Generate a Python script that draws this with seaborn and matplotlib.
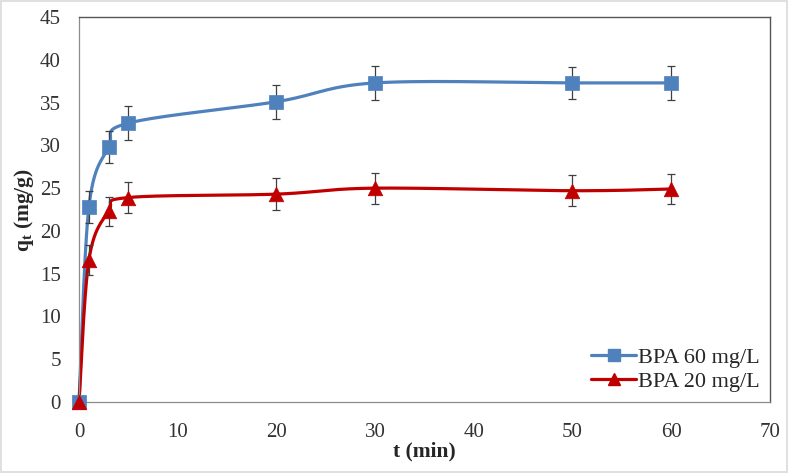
import numpy as np
import pandas as pd
import matplotlib
matplotlib.use("Agg")
import matplotlib.pyplot as plt
from matplotlib.lines import Line2D
import seaborn as sns

sns.set_theme(style="white")
plt.rcParams["font.family"] = ["Liberation Serif", "DejaVu Serif"]
plt.rcParams["mathtext.fontset"] = "custom"
plt.rcParams["mathtext.rm"] = "Liberation Serif"
plt.rcParams["mathtext.bf"] = "Liberation Serif:bold"

# Data
t_min = [0, 1, 3, 5, 20, 30, 50, 60]
q_60 = [0, 22.8, 29.8, 32.6, 35.1, 37.3, 37.3, 37.3]
err_60 = [0, 1.9, 1.9, 2.0, 2.0, 2.0, 1.9, 2.0]
q_20 = [0, 16.6, 22.3, 23.9, 24.3, 25.0, 24.7, 24.9]
err_20 = [0, 1.8, 1.7, 1.8, 1.9, 1.8, 1.8, 1.8]

labels = ["BPA 60 mg/L", "BPA 20 mg/L"]
colors = ["#4F81BD", "#C00000"]
markers = ["s", "^"]

df = pd.DataFrame({
    "t": t_min * 2,
    "q": q_60 + q_20,
    "err": err_60 + err_20,
    "series": [labels[0]] * len(t_min) + [labels[1]] * len(t_min),
})

fig = plt.figure(figsize=(7.88, 4.73), dpi=100)
ax = fig.add_axes([0.1003, 0.150, 0.8765, 0.814])
ax.set_xlim(0, 70)
ax.set_ylim(0, 45)


def smooth_line(ax, x, y, n=30):
    # Excel style smoothed line: bezier segments built in display space
    pts = ax.transData.transform(np.column_stack([x, y]))
    out = []
    for i in range(len(pts) - 1):
        p0 = pts[max(i - 1, 0)]
        p1 = pts[i]
        p2 = pts[i + 1]
        p3 = pts[min(i + 2, len(pts) - 1)]
        c1 = p1 + (p2 - p0) / 6
        c2 = p2 - (p3 - p1) / 6
        s = np.linspace(0, 1, n)[:, None]
        seg = ((1 - s) ** 3) * p1 + 3 * ((1 - s) ** 2) * s * c1 + 3 * (1 - s) * s ** 2 * c2 + s ** 3 * p2
        out.append(seg)
    out = np.vstack(out)
    return ax.transData.inverted().transform(out)


handles = []
for lab, col, mk in zip(labels, colors, markers):
    d = df[df["series"] == lab]
    curve = smooth_line(ax, d["t"].values, d["q"].values)
    ax.plot(curve[:, 0], curve[:, 1], color=col, lw=2.3, zorder=2, clip_on=False)
    ax.errorbar(d["t"], d["q"], yerr=d["err"], fmt="none", ecolor="#404040",
                elinewidth=0.9, capsize=3, capthick=0.9, zorder=3)
    sns.scatterplot(data=d, x="t", y="q", marker=mk, color=col, s=110,
                    edgecolor=col, linewidth=0.5, ax=ax, zorder=4, clip_on=False,
                    legend=False)
    handles.append(Line2D([0], [0], color=col, lw=2.3, marker=mk, markersize=8,
                          markeredgecolor=col, label=lab))

ax.set_xticks(range(0, 71, 10))
ax.set_yticks(range(0, 46, 5))
ax.tick_params(axis="both", length=0, labelsize=15, colors="#333333")
ax.tick_params(axis="x", pad=15)
ax.tick_params(axis="y", pad=13)

ax.set_xlabel("t (min)", fontsize=15.5, fontweight="bold", labelpad=0)
ax.set_ylabel(r"q$_{\mathbf{t}}$ (mg/g)", fontsize=15.5, fontweight="bold", labelpad=3)

for side in ["left", "bottom"]:
    ax.spines[side].set_color("#8c8c8c")
    ax.spines[side].set_linewidth(0.9)
for side in ["top", "right"]:
    ax.spines[side].set_color("#555555")
    ax.spines[side].set_linewidth(1.0)

ax.legend(handles=handles, loc="lower right", frameon=False, fontsize=16,
          handlelength=2.0, handletextpad=0.1, borderaxespad=0.05, labelspacing=0.15)

# light border around the whole picture
fig.patch.set_edgecolor("#e0e0e0")
fig.patch.set_linewidth(1.5)

fig.savefig("out.png", dpi=100)
